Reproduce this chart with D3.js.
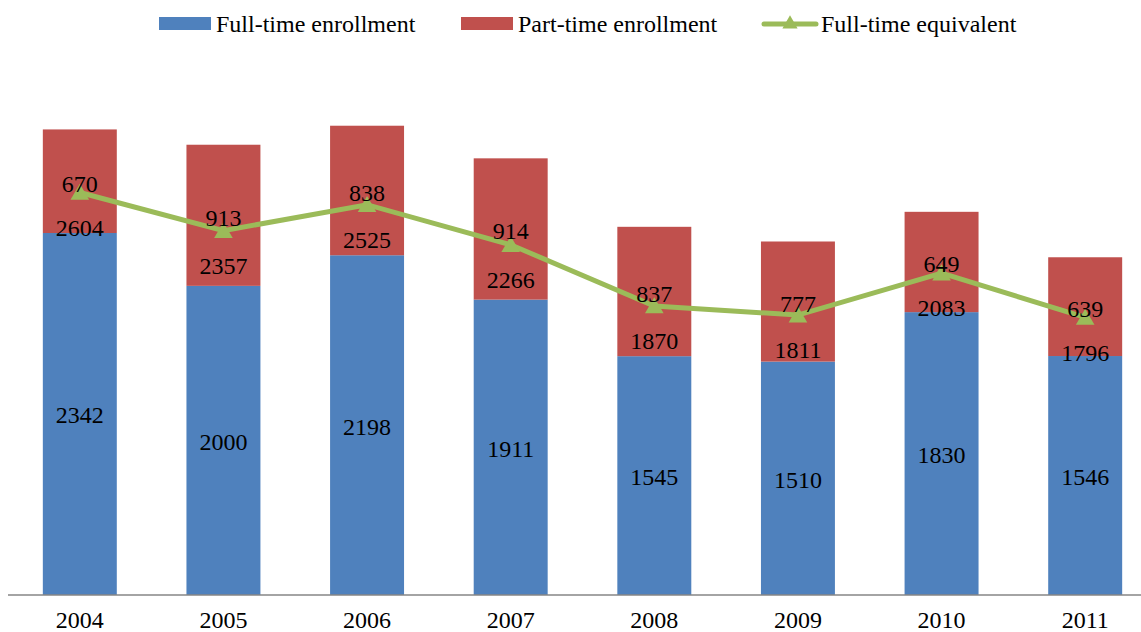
<!DOCTYPE html>
<html>
<head>
<meta charset="utf-8">
<script src="https://cdn.jsdelivr.net/npm/d3@7"></script>
<style>
  body { margin: 0; background: #fff; }
</style>
</head>
<body>
<div class="chart"></div>
<script>
// chart values
const years = ['2004', '2005', '2006', '2007', '2008', '2009', '2010', '2011'];
const fullTime = [2342, 2000, 2198, 1911, 1545, 1510, 1830, 1546];
const partTime = [670, 913, 838, 914, 837, 777, 649, 639];
const fte = [2604, 2357, 2525, 2266, 1870, 1811, 2083, 1796];

const width = 1141;
const height = 632;
const blue = '#4F81BD';
const red = '#C0504D';
const green = '#9BBB59';
const font = "'Liberation Serif'";

const rows = years.map((y, i) => ({year: y, full: fullTime[i], part: partTime[i], fte: fte[i]}));

const svg = d3.select('.chart').append('svg')
  .attr('width', width).attr('height', height)
  .attr('font-family', font);

// the plot area runs past the right edge, like in the original
const x = d3.scaleBand().domain(years).range([8, 1157]).paddingInner(0.485).paddingOuter(0.2425);
const y = d3.scaleLinear().domain([0, 3500]).range([595, 54]);

// blue bars
svg.selectAll('.full').data(rows).enter()
  .append('rect')
  .attr('class', 'full')
  .attr('x', d => x(d.year))
  .attr('width', x.bandwidth())
  .attr('y', d => y(d.full))
  .attr('height', d => y(0) - y(d.full))
  .attr('fill', blue);

// red bars on top
svg.selectAll('.part').data(rows).enter()
  .append('rect')
  .attr('class', 'part')
  .attr('x', d => x(d.year))
  .attr('width', x.bandwidth())
  .attr('y', d => y(d.full + d.part))
  .attr('height', d => y(d.full) - y(d.full + d.part))
  .attr('fill', red);

// x axis
const axis = svg.append('g')
  .attr('transform', `translate(0, ${y(0)})`)
  .call(d3.axisBottom(x).tickSize(0).tickPadding(16));
axis.attr('font-family', font).attr('font-size', 24);
axis.select('.domain').attr('stroke', '#868686').attr('stroke-width', 1.5)
  .attr('d', `M8,0H${width}`);
axis.selectAll('text').attr('fill', '#000');

// line for full-time equivalent
const cx = d => x(d.year) + x.bandwidth() / 2;
const line = d3.line().x(cx).y(d => y(d.fte));
svg.append('path')
  .datum(rows)
  .attr('d', line)
  .attr('fill', 'none')
  .attr('stroke', green)
  .attr('stroke-width', 5);

const tri = d3.symbol().type(d3.symbolTriangle).size(150);
svg.selectAll('.marker').data(rows).enter()
  .append('path')
  .attr('class', 'marker')
  .attr('d', tri)
  .attr('transform', d => `translate(${cx(d)}, ${y(d.fte) + 2})`)
  .attr('fill', green);

// data labels
const label = (cls, yPos, txt) => {
  svg.selectAll('.' + cls).data(rows).enter()
    .append('text')
    .attr('class', cls)
    .attr('x', cx)
    .attr('y', yPos)
    .attr('text-anchor', 'middle')
    .attr('dy', '0.35em')
    .attr('font-size', 24)
    .attr('fill', '#000')
    .text(txt);
};
label('lab-full', d => (y(0) + y(d.full)) / 2 + 1, d => d.full);
label('lab-part', d => (y(d.full) + y(d.full + d.part)) / 2 + 2, d => d.part);
label('lab-fte', d => y(d.fte) + 35, d => d.fte);

// legend
const legend = svg.append('g').attr('font-size', 24);
const l1 = legend.append('g').attr('transform', 'translate(159, 0)');
l1.append('rect').attr('x', 0).attr('y', 17).attr('width', 52).attr('height', 13).attr('fill', blue);
l1.append('text').attr('x', 57).attr('y', 32).text('Full-time enrollment');

const l2 = legend.append('g').attr('transform', 'translate(461, 0)');
l2.append('rect').attr('x', 0).attr('y', 17).attr('width', 52).attr('height', 13).attr('fill', red);
l2.append('text').attr('x', 57).attr('y', 32).text('Part-time enrollment');

const l3 = legend.append('g').attr('transform', 'translate(762, 0)');
l3.append('line').attr('x1', 2).attr('x2', 54).attr('y1', 24).attr('y2', 24)
  .attr('stroke', green).attr('stroke-width', 5).attr('stroke-linecap', 'round');
l3.append('path').attr('d', d3.symbol().type(d3.symbolTriangle).size(100))
  .attr('transform', 'translate(28, 24)').attr('fill', green);
l3.append('text').attr('x', 59).attr('y', 32).text('Full-time equivalent');
</script>
</body>
</html>
